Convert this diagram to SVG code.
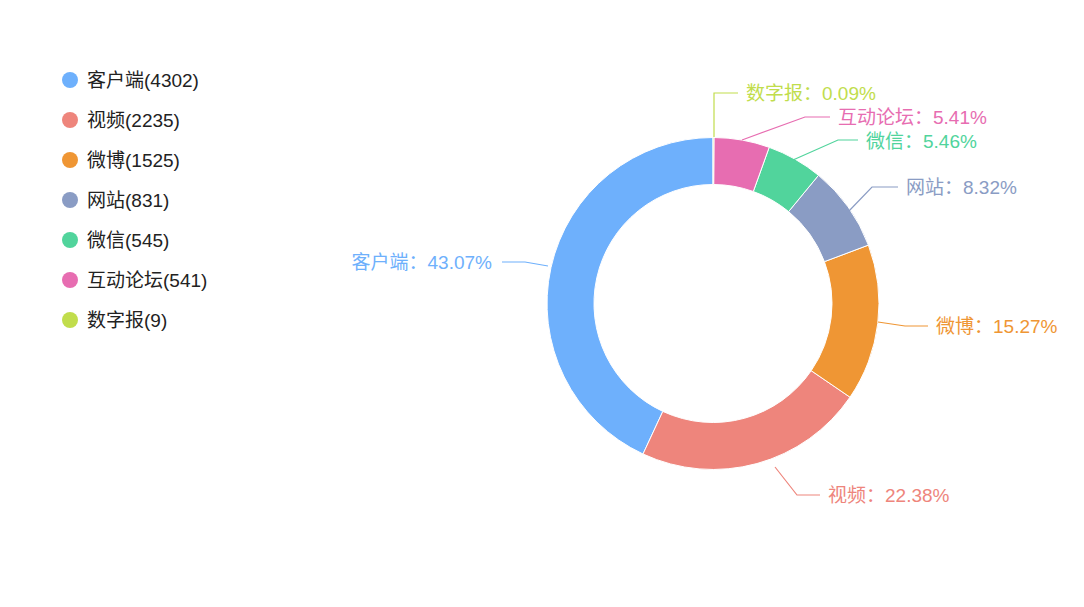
<svg xmlns="http://www.w3.org/2000/svg" width="1084" height="607" viewBox="0 0 1084 607">
<style>
text{font-family:"Liberation Sans","Noto Sans CJK SC",sans-serif;font-size:19px}
.lg{fill:#222}
.ln{fill:none;stroke-width:1.2}
</style>
<rect width="1084" height="607" fill="#fff"/>
<g id="legend">
<circle cx="70" cy="80" r="8" fill="#6eb0fc"/><text class="lg" x="87" y="87">客户端(4302)</text>
<circle cx="70" cy="120" r="8" fill="#ee857c"/><text class="lg" x="87" y="127">视频(2235)</text>
<circle cx="70" cy="160" r="8" fill="#ef9634"/><text class="lg" x="87" y="167">微博(1525)</text>
<circle cx="70" cy="200" r="8" fill="#8a9cc4"/><text class="lg" x="87" y="207">网站(831)</text>
<circle cx="70" cy="240" r="8" fill="#51d49c"/><text class="lg" x="87" y="247">微信(545)</text>
<circle cx="70" cy="280" r="8" fill="#e76db1"/><text class="lg" x="87" y="287">互动论坛(541)</text>
<circle cx="70" cy="320" r="8" fill="#c1dd4c"/><text class="lg" x="87" y="327">数字报(9)</text>
</g>
<g id="slices" stroke="#fff" stroke-width="1">
<path id="s1" fill="#6eb0fc" d="M713,137.5 A166,166 0 0 0 643,454 L662.8,411.4 A119,119 0 0 1 713,184.5 Z"/>
<path id="s2" fill="#ee857c" d="M643,454 A166,166 0 0 0 850,397.2 L811.2,370.7 A119,119 0 0 1 662.8,411.4 Z"/>
<path id="s3" fill="#ef9634" d="M850,397.2 A166,166 0 0 0 868.4,245.1 L824.4,261.65 A119,119 0 0 1 811.2,370.7 Z"/>
<path id="s4" fill="#8a9cc4" d="M868.4,245.1 A166,166 0 0 0 818.5,175.3 L788.6,211.6 A119,119 0 0 1 824.4,261.65 Z"/>
<path id="s5" fill="#51d49c" d="M818.5,175.3 A166,166 0 0 0 769.2,147.3 L753.3,191.5 A119,119 0 0 1 788.6,211.6 Z"/>
<path id="s6" fill="#e76db1" d="M769.2,147.3 A166,166 0 0 0 713.93,137.5 L713.67,184.5 A119,119 0 0 1 753.3,191.5 Z"/>
<path id="s7" fill="#c1dd4c" d="M713.93,137.5 A166,166 0 0 0 713,137.5 L713,184.5 A119,119 0 0 1 713.67,184.5 Z"/>
</g>
<g id="connectors">
<polyline class="ln" stroke="#6eb0fc" points="548,266 525,262 502,262"/>
<polyline class="ln" stroke="#ee857c" points="775,467 797,495 820,495"/>
<polyline class="ln" stroke="#ef9634" points="878,322 905,326 928,326"/>
<polyline class="ln" stroke="#8a9cc4" points="848,212 872,187 898,187"/>
<polyline class="ln" stroke="#51d49c" points="793,160 838,140 858,140"/>
<polyline class="ln" stroke="#e76db1" points="742,140 805,117 830,117"/>
<polyline class="ln" stroke="#c1dd4c" points="714,137 714,93 738,93"/>
</g>
<g id="labels">
<text x="492" y="269" text-anchor="end" fill="#6eb0fc">客户端：43.07%</text>
<text x="828" y="502" fill="#ee857c">视频：22.38%</text>
<text x="936" y="333" fill="#ef9634">微博：15.27%</text>
<text x="906" y="194" fill="#8a9cc4">网站：8.32%</text>
<text x="866" y="148" fill="#51d49c">微信：5.46%</text>
<text x="838" y="124" fill="#e76db1">互动论坛：5.41%</text>
<text x="746" y="100" fill="#c1dd4c">数字报：0.09%</text>
</g>
</svg>
